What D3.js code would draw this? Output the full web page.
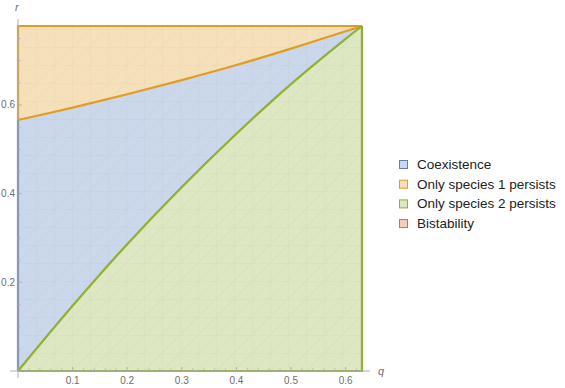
<!DOCTYPE html>
<html>
<head>
<meta charset="utf-8">
<script src="https://cdn.jsdelivr.net/npm/d3@7"></script>
<style>
  body { margin: 0; background: #fff; }
  text { font-family: "Liberation Sans", Arial, sans-serif; }
  .tick-label { font-size: 10px; fill: #6e6e6e; }
  .axis-name { font-size: 11px; fill: #6e6e6e; font-style: italic; }
  .legend { font-size: 13.5px; fill: #222; }
</style>
</head>
<body>
<script>
// sample positions along q, and the two region boundaries
const qValues      = [0, 0.1, 0.2, 0.3, 0.4, 0.5, 0.6, 0.63];
const upperBound   = [0.566, 0.594, 0.624, 0.656, 0.690, 0.727, 0.766, 0.778]; // species 1 / coexistence
const lowerBound   = [0, 0.147, 0.286, 0.415, 0.535, 0.647, 0.749, 0.778];     // coexistence / species 2

const Q_MAX = 0.63;
const R_MAX = 0.778;

const xTicks = [0.1, 0.2, 0.3, 0.4, 0.5, 0.6];
const xMinorTicks = d3.range(0.02, 0.63, 0.02);
const yTicks = [0.2, 0.4, 0.6];
const yMinorTicks = d3.range(0.05, 0.78, 0.05);

const legendLabels = ['Coexistence', 'Only species 1 persists', 'Only species 2 persists', 'Bistability'];
const lineColors = ['#5e81b5', '#e19c24', '#8fb032', '#eb6235'];
const fillColors = ['#cbd7ea', '#f6e0ba', '#dde7c1', '#f8cdbd'];

const W = 565, H = 388;
const svg = d3.select('body').append('svg')
    .attr('width', W)
    .attr('height', H);

const x = d3.scaleLinear().domain([0, Q_MAX]).range([18, 362]);
const y = d3.scaleLinear().domain([0, R_MAX]).range([371, 26]);

const pts = qValues.map((q, i) => ({ q: q, hi: upperBound[i], lo: lowerBound[i] }));
const curve = d3.curveCatmullRom.alpha(0.5);

// mesh pattern, like the triangulation that shows through
const defs = svg.append('defs');
const pat = defs.append('pattern')
    .attr('id', 'mesh')
    .attr('patternUnits', 'userSpaceOnUse')
    .attr('x', 18).attr('y', 371)
    .attr('width', 18).attr('height', 18);
pat.append('path').attr('d', 'M0,18L18,0M0,0H18M0,0V18')
    .attr('stroke', '#8c8c8c').attr('stroke-width', 0.6).attr('opacity', 0.14).attr('fill', 'none');

const plot = svg.append('g');

// regions
plot.append('path').datum(pts)
    .attr('fill', fillColors[1])
    .attr('d', d3.area().curve(curve).x(d => x(d.q)).y0(d => y(d.hi)).y1(() => y(R_MAX)));
plot.append('path').datum(pts)
    .attr('fill', fillColors[0])
    .attr('d', d3.area().curve(curve).x(d => x(d.q)).y0(d => y(d.lo)).y1(d => y(d.hi)));
plot.append('path').datum(pts)
    .attr('fill', fillColors[2])
    .attr('d', d3.area().curve(curve).x(d => x(d.q)).y0(() => y(0)).y1(d => y(d.lo)));

plot.append('rect')
    .attr('x', x(0)).attr('y', y(R_MAX))
    .attr('width', x(Q_MAX) - x(0)).attr('height', y(0) - y(R_MAX))
    .attr('fill', 'url(#mesh)');

// axes
const axisColor = '#b0b0b0';
const axes = svg.append('g');
axes.append('line').attr('x1', 10).attr('x2', 370).attr('y1', y(0)).attr('y2', y(0))
    .attr('stroke', axisColor).attr('stroke-width', 1);
axes.append('line').attr('x1', x(0)).attr('x2', x(0)).attr('y1', 378).attr('y2', 19)
    .attr('stroke', axisColor).attr('stroke-width', 1);

axes.selectAll('.xminor').data(xMinorTicks).join('line')
    .attr('x1', d => x(d)).attr('x2', d => x(d))
    .attr('y1', y(0)).attr('y2', d => y(0) - (xTicks.some(t => Math.abs(t - d) < 1e-6) ? 4 : 2.5))
    .attr('stroke', axisColor);
axes.selectAll('.yminor').data(yMinorTicks).join('line')
    .attr('y1', d => y(d)).attr('y2', d => y(d))
    .attr('x1', x(0)).attr('x2', d => x(0) + (yTicks.some(t => Math.abs(t - d) < 1e-6) ? 4 : 2.5))
    .attr('stroke', axisColor);

axes.selectAll('.xlab').data(xTicks).join('text')
    .attr('class', 'tick-label')
    .attr('x', d => x(d)).attr('y', 384)
    .attr('text-anchor', 'middle')
    .text(d => d3.format('.1f')(d));
axes.selectAll('.ylab').data(yTicks).join('text')
    .attr('class', 'tick-label')
    .attr('x', 15).attr('y', d => y(d) + 3.5)
    .attr('text-anchor', 'end')
    .text(d => d3.format('.1f')(d));

axes.append('text').attr('class', 'axis-name').attr('x', 378).attr('y', 375).text('q');
axes.append('text').attr('class', 'axis-name').attr('x', 15).attr('y', 11).text('r');

// boundary lines
const sw = 2.2;
plot.append('path')
    .attr('d', d3.line()([[x(0), y(0)], [x(0), y(upperBound[0])]]))
    .attr('stroke', lineColors[0]).attr('stroke-width', sw).attr('fill', 'none');
plot.append('path')
    .attr('d', d3.line()([[x(0), y(upperBound[0])], [x(0), y(R_MAX)], [x(Q_MAX), y(R_MAX)]]))
    .attr('stroke', lineColors[1]).attr('stroke-width', sw).attr('fill', 'none');
plot.append('path').datum(pts)
    .attr('d', d3.line().curve(curve).x(d => x(d.q)).y(d => y(d.hi)))
    .attr('stroke', lineColors[1]).attr('stroke-width', sw).attr('fill', 'none');
plot.append('path')
    .attr('d', d3.line()([[x(0), y(0)], [x(Q_MAX), y(0)], [x(Q_MAX), y(R_MAX)]]))
    .attr('stroke', lineColors[2]).attr('stroke-width', sw).attr('fill', 'none');
plot.append('path').datum(pts)
    .attr('d', d3.line().curve(curve).x(d => x(d.q)).y(d => y(d.lo)))
    .attr('stroke', lineColors[2]).attr('stroke-width', sw).attr('fill', 'none');

// legend
const legend = svg.append('g').attr('transform', 'translate(399,160)');
const item = legend.selectAll('g').data(legendLabels).join('g')
    .attr('transform', (d, i) => `translate(0,${i * 19.7})`);
item.append('rect')
    .attr('x', 0.5).attr('y', 0.5).attr('width', 8).attr('height', 8)
    .attr('fill', (d, i) => fillColors[i])
    .attr('stroke', (d, i) => lineColors[i]).attr('stroke-width', 1);
item.append('text')
    .attr('class', 'legend')
    .attr('x', 18).attr('y', 9)
    .text(d => d);
</script>
</body>
</html>
